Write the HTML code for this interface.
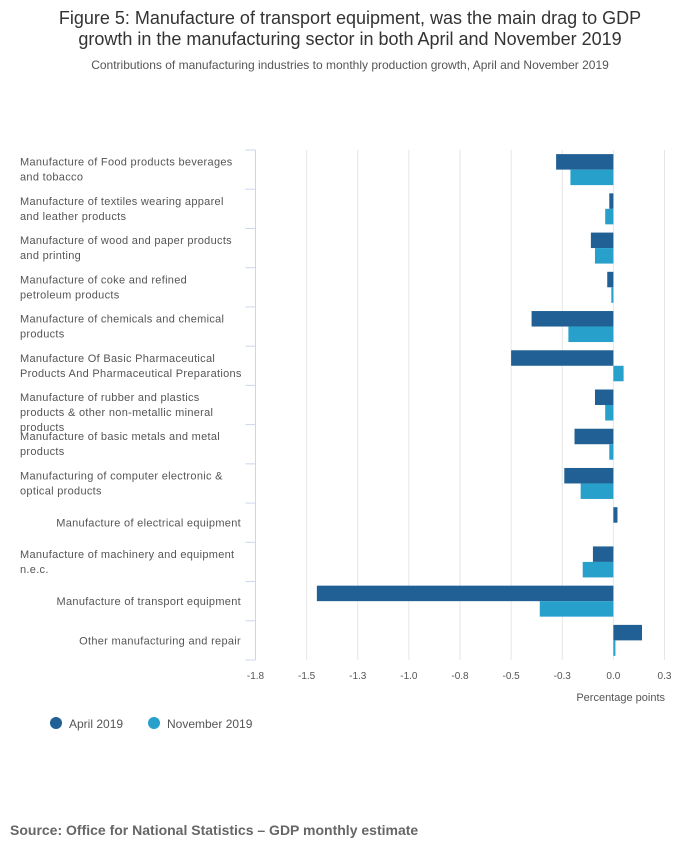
<!DOCTYPE html>
<html><head><meta charset="utf-8"><style>
body{margin:0;background:#fff;width:700px;height:857px;overflow:hidden;font-family:"Liberation Sans",sans-serif}
</style></head><body>
<svg width="700" height="857" xmlns="http://www.w3.org/2000/svg">
<text x="350" y="24" text-anchor="middle" font-size="18" fill="#333">Figure 5: Manufacture of transport equipment, was the main drag to GDP</text>
<text x="350" y="45" text-anchor="middle" font-size="18" fill="#333">growth in the manufacturing sector in both April and November 2019</text>
<text x="350" y="69" text-anchor="middle" font-size="12" fill="#555">Contributions of manufacturing industries to monthly production growth, April and November 2019</text>
<g id="grid"></g><g id="bars"></g><g id="cats"></g><g id="ticks"></g>
<text x="665" y="701" text-anchor="end" font-size="11" fill="#555">Percentage points</text>
<g>
<circle cx="56" cy="723" r="6" fill="#206095"/>
<text x="69" y="728" font-size="12" fill="#555">April 2019</text>
<circle cx="154" cy="723" r="6" fill="#27a0cc"/>
<text x="167" y="728" font-size="12" fill="#555">November 2019</text>
</g>
<text x="10" y="835" font-size="14" font-weight="bold" fill="#666">Source: Office for National Statistics – GDP monthly estimate</text>
</svg>
<script>
const categories=[["Manufacture of Food products beverages","and tobacco"],["Manufacture of textiles wearing apparel","and leather products"],["Manufacture of wood and paper products","and printing"],["Manufacture of coke and refined","petroleum products"],["Manufacture of chemicals and chemical","products"],["Manufacture Of Basic Pharmaceutical","Products And Pharmaceutical Preparations"],["Manufacture of rubber and plastics","products & other non-metallic mineral","products"],["Manufacture of basic metals and metal","products"],["Manufacturing of computer electronic &","optical products"],["Manufacture of electrical equipment"],["Manufacture of machinery and equipment","n.e.c."],["Manufacture of transport equipment"],["Other manufacturing and repair"]];
const april=[-0.28,-0.02,-0.11,-0.03,-0.40,-0.50,-0.09,-0.19,-0.24,0.02,-0.10,-1.45,0.14];
const november=[-0.21,-0.04,-0.09,-0.01,-0.22,0.05,-0.04,-0.02,-0.16,0.0,-0.15,-0.36,0.01];
const tickValues=[-1.75,-1.5,-1.25,-1.0,-0.75,-0.5,-0.25,0,0.25];
const tickLabels=["-1.8","-1.5","-1.3","-1.0","-0.8","-0.5","-0.3","0.0","0.3"];
const NS="http://www.w3.org/2000/svg";
const X0=255.5,X1=664.5,D0=-1.75,D1=0.25,Y0=150,Y1=660;
const x=v=>X0+(v-D0)/(D1-D0)*(X1-X0);
const band=(Y1-Y0)/categories.length;
const y=i=>Y0+i*band;
function mk(tag,attrs,parent){const e=document.createElementNS(NS,tag);for(const k in attrs)e.setAttribute(k,attrs[k]);document.getElementById(parent).appendChild(e);return e;}
tickValues.forEach((t,i)=>{
 if(i>0){const g=mk('line',{x1:x(t),x2:x(t),y1:Y0,y2:Y1,stroke:'#e6e6e6','stroke-width':1},'grid');
 
 }
 const tl=mk('text',{x:x(t),y:679,'text-anchor':'middle','font-size':10,fill:'#555'},'ticks');
 tl.textContent=tickLabels[i];
 
 
});
const ax=mk('line',{x1:X0,x2:X0,y1:Y0,y2:Y1,stroke:'#ccd6eb'},'grid');


for(let i=0;i<=categories.length;i++){
 const tk=mk('line',{x1:X0-10,x2:X0,y1:y(i),y2:y(i),stroke:'#ccd6eb'},'grid');
 
 
}
const bh=15.5;
categories.forEach((c,i)=>{
 const yc=y(i)+band/2;
 const a=april[i],n=november[i];
 const r1=mk('rect',{x:Math.min(x(a),x(0)),y:yc-bh,width:Math.abs(x(a)-x(0)),height:bh,fill:'#206095'},'bars');
 
 
 const r2=mk('rect',{x:Math.min(x(n),x(0)),y:yc,width:Math.max(Math.abs(x(n)-x(0)),n===0?0:1),height:bh,fill:'#27a0cc'},'bars');
 
 
 const t=mk('text',{'font-size':11,fill:'#555','letter-spacing':'0.3'},'cats');
 
 
 if(c.length===1){t.setAttribute('x',241);t.setAttribute('text-anchor','end');t.setAttribute('y',yc+4);t.textContent=c[0];}
 else{const top=yc-4;c.forEach((ln,j)=>{const s=document.createElementNS(NS,'tspan');s.setAttribute('x',20);s.setAttribute('y',top+j*15);s.textContent=ln;t.appendChild(s);});}
});
</script>
</body></html>
